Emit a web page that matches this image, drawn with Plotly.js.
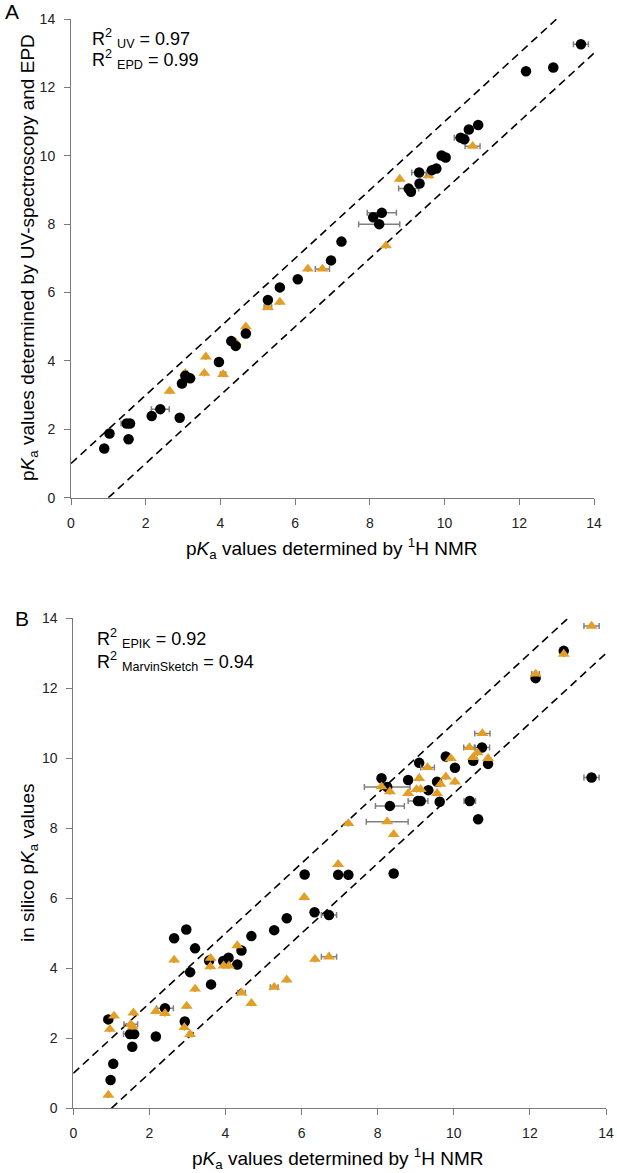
<!DOCTYPE html>
<html>
<head>
<meta charset="utf-8">
<script src="https://cdn.plot.ly/plotly-3.0.1.min.js"></script>
<style>html,body{margin:0;padding:0;background:#fff;}#chart{width:617px;height:1173px;}</style>
</head>
<body>
<div id="chart"></div>
<script>
// ---------- Panel A: 1H NMR vs UV-spectroscopy (circles) / EPD (triangles) ----------
const aUvX   = [0.89,1.03,1.49,1.58,1.54,2.16,2.39,2.91,2.97,3.06,3.19,3.96,4.29,4.41,4.68,5.27,5.59,6.07,6.96,7.24,8.09,8.32,8.25,9.04,9.10,9.32,9.33,9.66,9.78,9.92,10.03,10.43,10.53,10.65,10.90,12.18,12.91,13.65];
const aUvY   = [1.44,1.88,2.17,2.17,1.71,2.39,2.59,2.34,3.34,3.57,3.49,3.97,4.58,4.44,4.80,5.78,6.15,6.39,6.94,7.49,8.20,8.33,8.00,9.04,8.95,9.51,9.19,9.58,9.63,10.01,9.95,10.53,10.48,10.77,10.90,12.47,12.58,13.26];
const aUvErr = [0,0,0.15,0,0,0,0.24,0,0,0,0,0,0,0,0,0,0,0,0,0,0,0.39,0.55,0.27,0,0.2,0,0,0,0,0,0.17,0,0,0,0,0,0.2];

const aEpdX   = [2.64,3.06,3.57,3.61,4.07,4.41,4.68,5.27,5.59,6.34,6.73,8.43,8.80,9.57,10.75];
const aEpdY   = [3.12,3.64,3.64,4.12,3.61,4.54,5.00,5.57,5.72,6.69,6.69,7.37,9.32,9.42,10.28];
const aEpdErr = [0,0.05,0,0,0.07,0,0,0.1,0,0,0.19,0,0,0.06,0.2];

// ---------- Panel B: 1H NMR vs in silico (circles: EPIK, triangles: MarvinSketch) ----------
const bEpikX   = [0.92,1.05,0.98,1.49,1.60,1.55,2.17,2.41,2.65,2.97,3.20,3.07,2.93,3.57,3.62,3.94,4.08,4.31,4.42,4.68,5.28,5.61,6.34,6.72,6.08,6.96,7.23,8.42,8.32,8.10,8.25,8.80,9.06,9.13,9.09,9.33,9.56,9.63,9.79,10.03,10.42,10.64,10.51,10.74,10.90,12.15,12.89,13.62];
const bEpikY   = [2.54,1.27,0.81,2.12,2.12,1.76,2.05,2.86,4.86,5.11,4.57,3.89,2.48,4.22,3.54,4.21,4.30,4.11,4.51,4.92,5.09,5.43,5.60,5.52,6.68,6.67,6.67,6.71,8.64,9.43,9.18,9.38,8.78,8.78,9.87,9.09,9.33,8.76,10.05,9.73,8.78,8.26,9.93,10.31,9.84,12.29,13.07,9.45];
const bEpikErr = [0,0,0,0.17,0,0,0,0.22,0,0,0,0,0,0,0,0,0,0,0,0,0.1,0,0,0.2,0,0,0,0,0.38,0,0.6,0,0.26,0,0,0,0,0,0,0,0.15,0,0,0.2,0,0,0,0.2];

const bMarvX   = [0.92,1.07,0.96,1.51,1.56,1.58,2.17,2.41,2.65,2.98,2.92,3.07,3.20,3.61,3.60,3.95,4.09,4.31,4.42,4.68,5.28,5.61,6.35,6.72,6.07,6.96,7.23,8.42,8.25,8.10,8.32,8.80,9.02,9.13,9.09,9.31,9.56,9.65,9.79,10.03,9.92,10.41,10.62,10.51,10.90,10.75,12.15,12.89,13.62];
const bMarvY   = [0.38,2.64,2.26,2.40,2.33,2.73,2.77,2.71,4.24,2.92,2.31,2.11,3.41,4.29,4.05,4.07,4.07,4.65,3.30,3.00,3.46,3.67,4.26,4.33,6.03,6.97,8.14,7.83,8.19,9.19,9.05,9.00,9.11,9.11,9.43,9.74,9.00,9.26,9.47,9.33,10.00,10.31,10.16,10.03,10.00,10.71,12.41,12.98,13.78];
const bMarvErr = [0,0,0,0.18,0,0,0,0,0,0,0,0.05,0,0,0,0,0,0,0.1,0,0.1,0,0,0.2,0,0,0,0,0.55,0,0,0,0,0,0,0.18,0,0,0,0,0,0.15,0,0,0,0.2,0.1,0,0.2];

// reference lines y = x +/- offset
const bandOffset = 1;
const upperLineX = [0, 13];
const lowerLineX = [1, 14];

const axisTicks = [0,2,4,6,8,10,12,14];

// ---------- styling ----------
const FONT = '"Liberation Sans", Arial, Helvetica, sans-serif';
const BLACK = '#000000';
const ORANGE = '#E39E26';
const ERRCOL = '#808080';
const W = 617, H = 1173;
const px = v => v / W;
const py = v => 1 - v / H;

function errObj(arr){
  return {type:'data', symmetric:true, array:arr, color:ERRCOL, thickness:1.5, width:3, visible:true};
}
function circles(x,y,e,xa,ya){
  return {x:x, y:y, xaxis:xa, yaxis:ya, type:'scatter', mode:'markers',
    marker:{symbol:'circle', size:10.5, color:BLACK, line:{width:0}},
    error_x:errObj(e), showlegend:false, hoverinfo:'x+y'};
}
function triangles(x,y,e,xa,ya){
  return {x:x, y:y, xaxis:xa, yaxis:ya, type:'scatter', mode:'markers',
    marker:{symbol:'triangle-up', size:10.5, color:ORANGE, line:{width:0}},
    error_x:errObj(e), showlegend:false, hoverinfo:'x+y'};
}
function dashLine(xs, off, xa, ya){
  return {x:xs, y:xs.map(v => v + off), xaxis:xa, yaxis:ya, type:'scatter', mode:'lines',
    line:{color:BLACK, width:1.6, dash:'8px,5px'}, showlegend:false, hoverinfo:'skip'};
}

const data = [
  dashLine(upperLineX, bandOffset, 'x', 'y'),
  dashLine(lowerLineX, -bandOffset, 'x', 'y'),
  triangles(aEpdX, aEpdY, aEpdErr, 'x', 'y'),
  circles(aUvX, aUvY, aUvErr, 'x', 'y'),
  dashLine(upperLineX, bandOffset, 'x2', 'y2'),
  dashLine(lowerLineX, -bandOffset, 'x2', 'y2'),
  circles(bEpikX, bEpikY, bEpikErr, 'x2', 'y2'),
  triangles(bMarvX, bMarvY, bMarvErr, 'x2', 'y2')
];

function axis(domain, anchor){
  return {
    domain: domain, anchor: anchor, range:[0,14], autorange:false,
    tickvals: axisTicks, ticktext: axisTicks.map(String),
    showgrid:false, zeroline:false, showline:true, linecolor:'#7a7a7a', linewidth:1,
    ticks:'outside', ticklen:6, tickwidth:1, tickcolor:'#7a7a7a',
    tickfont:{family:FONT, size:14, color:'#222'}, ticklabelstandoff:6,
    automargin:false, fixedrange:true
  };
}

const layout = {
  width: W, height: H,
  margin:{l:0, r:0, t:0, b:0},
  paper_bgcolor:'#fff', plot_bgcolor:'#fff',
  font:{family:FONT, color:'#000'},
  xaxis:  axis([px(71), px(594)], 'y'),
  yaxis:  axis([py(497.7), py(19)], 'x'),
  xaxis2: axis([px(73.3), px(606)], 'y2'),
  yaxis2: axis([py(1108.3), py(618.3)], 'x2'),
  annotations: [
    {text:'A', x:px(3), y:py(12), xref:'paper', yref:'paper', xanchor:'left', yanchor:'middle', showarrow:false, font:{family:FONT, size:21}},
    {text:'B', x:px(13), y:py(618), xref:'paper', yref:'paper', xanchor:'left', yanchor:'middle', showarrow:false, font:{family:FONT, size:21}},
    {text:'R<sup>2</sup> <sub>UV</sub> = 0.97', x:px(90), y:py(38), xref:'paper', yref:'paper', xanchor:'left', yanchor:'middle', showarrow:false, font:{family:FONT, size:18}},
    {text:'R<sup>2</sup> <sub>EPD</sub> = 0.99', x:px(90), y:py(60), xref:'paper', yref:'paper', xanchor:'left', yanchor:'middle', showarrow:false, font:{family:FONT, size:18}},
    {text:'R<sup>2</sup> <sub>EPIK</sub> = 0.92', x:px(95), y:py(638), xref:'paper', yref:'paper', xanchor:'left', yanchor:'middle', showarrow:false, font:{family:FONT, size:18}},
    {text:'R<sup>2</sup> <sub>MarvinSketch</sub> = 0.94', x:px(95), y:py(661), xref:'paper', yref:'paper', xanchor:'left', yanchor:'middle', showarrow:false, font:{family:FONT, size:18}},
    {text:'p<i>K</i><sub>a</sub> values determined by <sup>1</sup>H NMR', x:px(332), y:py(548), xref:'paper', yref:'paper', xanchor:'center', yanchor:'middle', showarrow:false, font:{family:FONT, size:19}},
    {text:'p<i>K</i><sub>a</sub> values determined by <sup>1</sup>H NMR', x:px(338), y:py(1158), xref:'paper', yref:'paper', xanchor:'center', yanchor:'middle', showarrow:false, font:{family:FONT, size:19}},
    {text:'p<i>K</i><sub>a</sub> values determined by UV-spectroscopy and EPD', x:px(29), y:py(258), xref:'paper', yref:'paper', xanchor:'center', yanchor:'middle', textangle:-90, showarrow:false, font:{family:FONT, size:19}},
    {text:'in silico p<i>K</i><sub>a</sub> values', x:px(29), y:py(863), xref:'paper', yref:'paper', xanchor:'center', yanchor:'middle', textangle:-90, showarrow:false, font:{family:FONT, size:19}}
  ]
};

Plotly.newPlot('chart', data, layout, {displayModeBar:false, staticPlot:true});
</script>
</body>
</html>
